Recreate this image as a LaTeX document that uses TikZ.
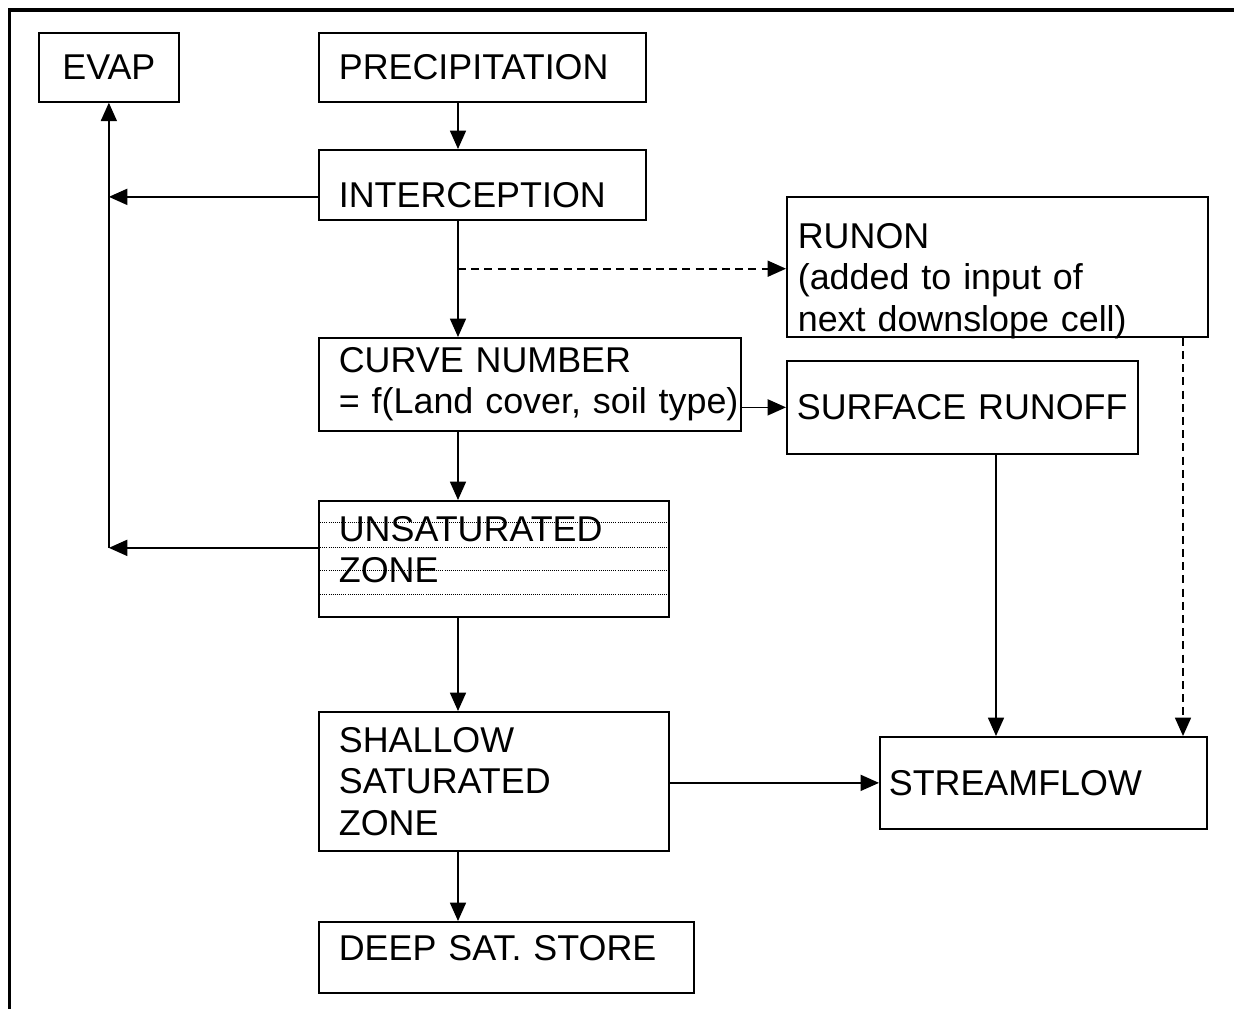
\documentclass[tikz,border=0pt]{standalone}
\usepackage{fontspec}
\setmainfont{Liberation Sans}
\usetikzlibrary{arrows.meta}
\usetikzlibrary{calc}
\tikzset{
    box/.style={
      rectangle,
           draw=black, line width=1.2pt,
           anchor=north west,
           align=left,
           inner ysep=0pt,
           font=\fontsize{25.5}{29.5}\selectfont,
           },
}
\tikzset{
    flow/.style={
      draw=black, line width=1.2pt,
           -{Triangle[length=0.46cm,width=0.4cm]},
           },
}
\tikzset{
    maybe/.style={
      flow,
           dash pattern=on 0.2cm off 0.13cm,
           },
}
\tikzset{
    layer/.style={
      draw=black, line width=0.5pt,
           dash pattern=on 0.6pt off 0.9pt,
           },
}

\begin{document}
\begin{tikzpicture}[x=0.025cm,y=-0.025cm]

\useasboundingbox (0,0) rectangle (1234,1008);
\draw[line width=2.2pt] (9.5,1010) |- (1236,10);

\node[box,align=center,inner xsep=0.25cm,text width=3cm,minimum height=1.725cm] (evap) at (38,32) {EVAP};
\node[box,inner xsep=0.5cm,text width=7.175cm,minimum height=1.725cm] (prec) at (318,32) {PRECIPITATION};
\node[box,inner xsep=0.5cm,text width=7.175cm,minimum height=1.75cm,text height=1.44cm,text depth=0.31cm] (intc) at (318,149) {INTERCEPTION};

\node[box,inner xsep=0.275cm,text width=9.975cm,minimum height=3.5cm,text height=1.275cm,text depth=2.2cm] (runon) at (786,196) {RUNON\\(added to input of\\next downslope cell)};

\node[box,inner xsep=0.5cm,text width=9.55cm,minimum height=2.325cm] (cn) at (318,337) {CURVE NUMBER\\\mbox{= f(Land cover, soil type)}};
\node[box,inner xsep=0.25cm,text width=8.275cm,minimum height=2.325cm] (sro) at (786,360) {\mbox{SURFACE RUNOFF}};

\node[box,inner xsep=0.5cm,text width=7.75cm,minimum height=2.9cm,text height=0.99cm,text depth=1.88cm] (unsat) at (318,500) {UNSATURATED\\ZONE};
\foreach \dy in {22,47,70,94}
  \draw[layer] ($(unsat.north west)+(0,\dy)$) -- ($(unsat.north east)+(0,\dy)$);

\node[box,inner xsep=0.5cm,text width=7.75cm,minimum height=3.475cm] (ssz) at (318,711) {SHALLOW\\SATURATED\\ZONE};
\node[box,inner xsep=0.225cm,text width=7.725cm,minimum height=2.3cm] (sf) at (879,736) {STREAMFLOW};
\node[box,inner xsep=0.5cm,text width=8.375cm,minimum height=1.775cm,text height=0.96cm,text depth=0.8cm] (deep) at (318,921) {DEEP SAT. STORE};

\coordinate (trunk) at (458,0);
\coordinate (srox) at (996,0);
\coordinate (runx) at (1183,0);

\draw[flow] (prec.south -| trunk) -- (intc.north -| trunk);
\draw[flow] (intc.south -| trunk) -- (cn.north -| trunk);
\draw[flow] (cn.south -| trunk) -- (unsat.north -| trunk);
\draw[flow] (unsat.south -| trunk) -- (ssz.north -| trunk);
\draw[flow] (ssz.south -| trunk) -- (deep.north -| trunk);

\path (intc.west) ++(0,12) coordinate (iout);
\path (intc.south -| trunk) ++(0,48) coordinate (split);
\path (unsat.west) ++(0,-11) coordinate (uout);

\draw[flow] (iout) -- (iout -| evap.south);
\draw[flow] (uout) -- (uout -| evap.south);
\draw[flow] (uout -| evap.south) -- (evap.south);

\draw[maybe] (split) -- (split -| runon.west);
\draw[flow] (cn.east |- sro.west) -- (sro.west);
\draw[flow] (ssz.east |- sf.west) -- (sf.west);
\draw[flow] (sro.south -| srox) -- (sf.north -| srox);
\draw[maybe] (runon.south -| runx) -- (sf.north -| runx);

\end{tikzpicture}
\end{document}
